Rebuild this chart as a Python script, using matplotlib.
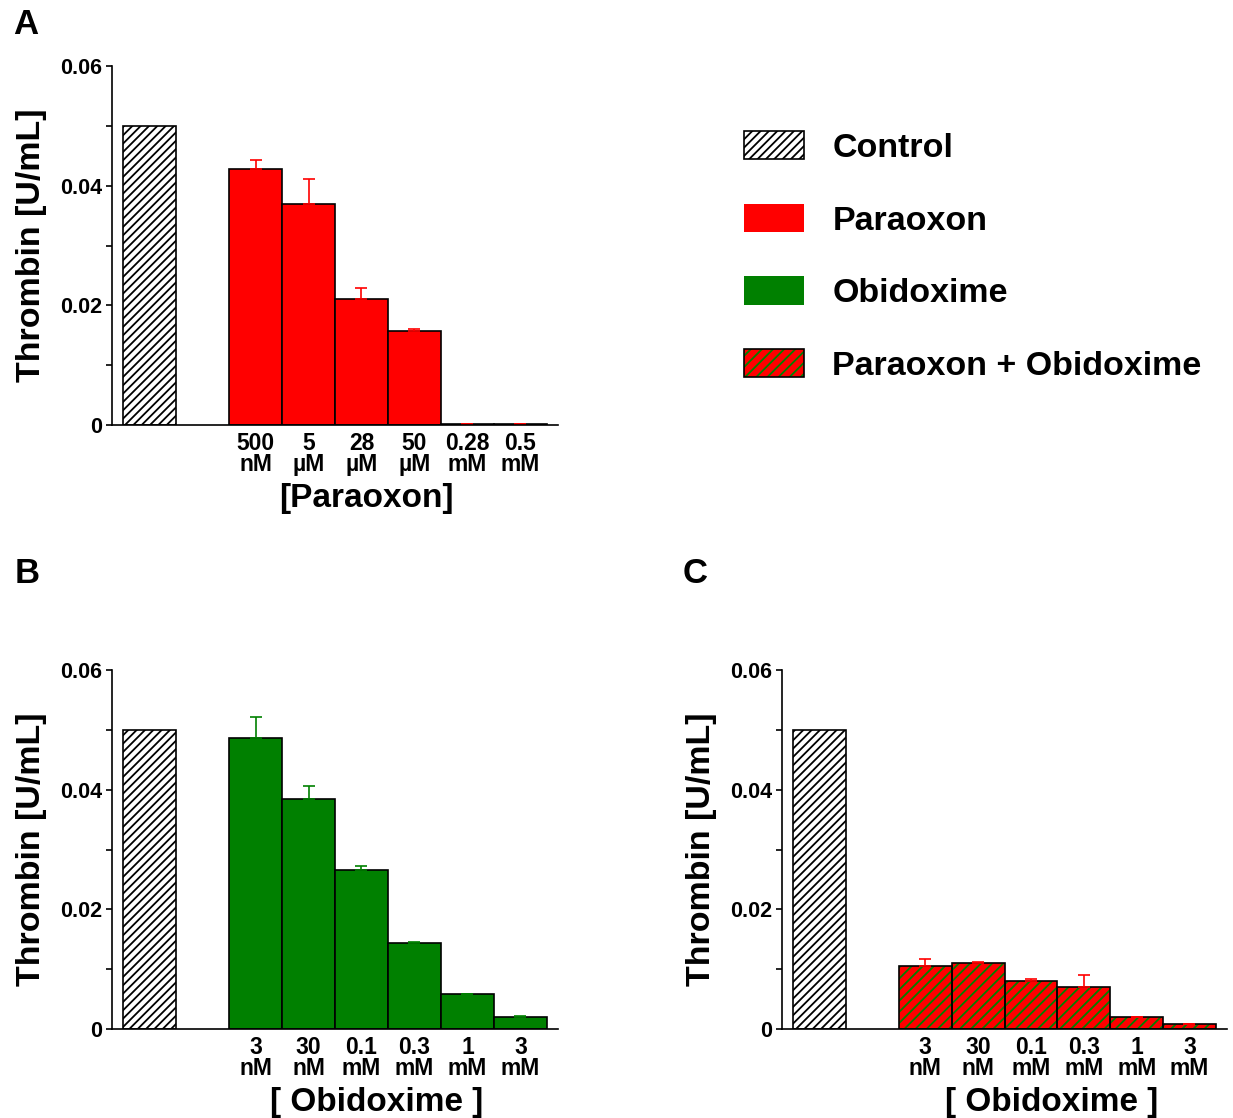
import matplotlib
matplotlib.use('Agg')
import matplotlib.pyplot as plt
from matplotlib.patches import Patch
from matplotlib.legend_handler import HandlerTuple
import matplotlib.transforms as mtransforms

plt.rcParams['font.family'] = ['Liberation Sans', 'DejaVu Sans']
plt.rcParams['font.weight'] = 'bold'
plt.rcParams['hatch.linewidth'] = 1.3

RED = '#ff0000'
GREEN = '#008000'

control_value = 0.050

paraoxon_labels = ['500\nnM', '5\nµM', '28\nµM', '50\nµM', '0.28\nmM', '0.5\nmM']
paraoxon_values = [0.0428, 0.0369, 0.0210, 0.0157, 0.0002, 0.0002]
paraoxon_err = [0.0015, 0.0042, 0.0019, 0.0003, 0.0, 0.0]

obidoxime_labels = ['3\nnM', '30\nnM', '0.1\nmM', '0.3\nmM', '1\nmM', '3\nmM']
obidoxime_values = [0.0486, 0.0384, 0.0266, 0.0144, 0.0058, 0.0020]
obidoxime_err = [0.0035, 0.0022, 0.0006, 0.0002, 0.0001, 0.0001]

combo_values = [0.0106, 0.0110, 0.0081, 0.0070, 0.0020, 0.0008]
combo_err = [0.0011, 0.0002, 0.0003, 0.0020, 0.0, 0.0]

W, H = 1233, 1118
fig = plt.figure(figsize=(W / 100, H / 100), dpi=100)


def px_axes(left, right, top, bottom):
    return fig.add_axes([left / W, 1 - bottom / H, (right - left) / W, (bottom - top) / H])


def style(ax, labels, xlabel, xlabel_x):
    ax.set_xlim(-0.71, 7.71)
    ax.set_ylim(0, 0.06)
    ax.spines['top'].set_visible(False)
    ax.spines['right'].set_visible(False)
    for s in ('left', 'bottom'):
        ax.spines[s].set_linewidth(1.2)
    ax.set_yticks([0, 0.02, 0.04, 0.06])
    ax.set_yticklabels(['0', '0.02', '0.04', '0.06'], fontsize=15.5, fontweight='bold')
    ax.set_yticks([0.01, 0.03, 0.05], minor=True)
    ax.tick_params(axis='y', which='both', direction='out', length=4, width=1.2, pad=3)
    ax.set_xticks(range(2, 8))
    ax.set_xticklabels(labels, fontsize=16.5, fontweight='bold', linespacing=0.9)
    ax.tick_params(axis='x', length=0, pad=5)
    ax.set_ylabel('Thrombin [U/mL]', fontsize=24.5, fontweight='bold')
    ax.yaxis.set_label_coords(-0.145, 0.5)
    trans = mtransforms.blended_transform_factory(ax.transData, ax.transAxes)
    ax.text(xlabel_x, -0.162, xlabel, transform=trans, ha='center', va='top',
            fontsize=24, fontweight='bold')


def control_bar(ax):
    ax.bar([0], [control_value], width=1.0, color='white', edgecolor='black',
           hatch='////', linewidth=1.2)


x_treat = list(range(2, 8))

# Panel A
axA = px_axes(112, 558, 66, 425)
control_bar(axA)
axA.bar(x_treat, paraoxon_values, width=1.0, color=RED, edgecolor='black', linewidth=1.2)
axA.errorbar(x_treat, paraoxon_values, yerr=[[0] * 6, paraoxon_err], fmt='none',
             ecolor=RED, elinewidth=1.2, capsize=4.5, capthick=1.2)
style(axA, paraoxon_labels, '[Paraoxon]', 4.1)

# Panel B
axB = px_axes(112, 558, 670, 1029)
control_bar(axB)
axB.bar(x_treat, obidoxime_values, width=1.0, color=GREEN, edgecolor='black', linewidth=1.2)
axB.errorbar(x_treat, obidoxime_values, yerr=[[0] * 6, obidoxime_err], fmt='none',
             ecolor=GREEN, elinewidth=1.2, capsize=4.5, capthick=1.2)
style(axB, obidoxime_labels, '[ Obidoxime ]', 4.29)

# Panel C
axC = px_axes(782, 1227, 670, 1029)
control_bar(axC)
axC.bar(x_treat, combo_values, width=1.0, color=RED, linewidth=0)
axC.bar(x_treat, combo_values, width=1.0, fill=False, edgecolor=GREEN, hatch='///', linewidth=0)
axC.bar(x_treat, combo_values, width=1.0, fill=False, edgecolor='black', linewidth=1.2)
axC.errorbar(x_treat, combo_values, yerr=[[0] * 6, combo_err], fmt='none',
             ecolor=RED, elinewidth=1.2, capsize=4.5, capthick=1.2)
style(axC, obidoxime_labels, '[ Obidoxime ]', 4.39)

# panel letters
fig.text(13 / W, 1 - 8 / H, 'A', fontsize=25, fontweight='bold', va='top')
fig.text(15 / W, 1 - 557 / H, 'B', fontsize=25, fontweight='bold', va='top')
fig.text(683 / W, 1 - 557 / H, 'C', fontsize=25, fontweight='bold', va='top')

# legend
h_control = Patch(facecolor='white', edgecolor='black', hatch='////', linewidth=1.2)
h_par = Patch(facecolor=RED, edgecolor='none')
h_obi = Patch(facecolor=GREEN, edgecolor='none')
h_combo = (Patch(facecolor=RED, edgecolor='none'),
           Patch(fill=False, edgecolor=GREEN, hatch='///', linewidth=0),
           Patch(fill=False, edgecolor='black', linewidth=1.2))
fig.legend([h_control, h_par, h_obi, h_combo],
           ['Control', 'Paraoxon', 'Obidoxime', 'Paraoxon + Obidoxime'],
           handler_map={tuple: HandlerTuple(ndivide=1, pad=0)},
           loc='upper left', bbox_to_anchor=(744 / W, 1 - 131 / H),
           frameon=False, prop={'size': 24.5, 'weight': 'bold'},
           handlelength=1.75, handleheight=0.9, handletextpad=0.85,
           labelspacing=1.17, borderaxespad=0, borderpad=0)

fig.savefig('out.png', dpi=100)
